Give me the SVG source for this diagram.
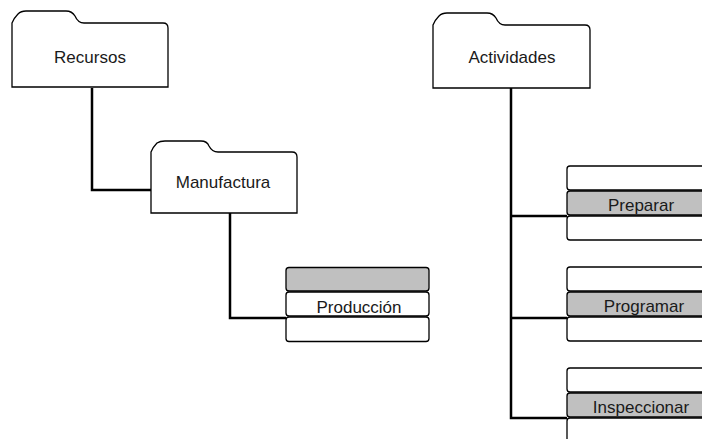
<svg xmlns="http://www.w3.org/2000/svg" width="702" height="439" viewBox="0 0 702 439">
  <style>
    .folder { fill: #ffffff; stroke: #000000; stroke-width: 1.3; }
    .row { fill: #ffffff; stroke: #000000; stroke-width: 1.3; }
    .row.sel { fill: #c0c0c0; }
    .wire { fill: none; stroke: #000000; stroke-width: 2.5; }
    .lbl { font-family: "Liberation Sans", Arial, sans-serif; font-size: 17px; fill: #1a1a1a; text-anchor: middle; }
  </style>

  <!-- connectors -->
  <g id="connectors">
    <path class="wire" d="M92,88 V190 H151"/>
    <path class="wire" d="M230,213 V318 H286"/>
    <path class="wire" d="M511,88 V418 H567"/>
    <path class="wire" d="M511,216 H567"/>
    <path class="wire" d="M511,318 H567"/>
  </g>

  <!-- folder: Recursos -->
  <g id="recursos">
    <path class="folder" d="M12,87 V23 Q14,18 18,14 Q21,11 26,11 H66 Q72,11 75,16 Q78,23 84,23 H163 Q168,23 168,28 V87 Z"/>
    <text class="lbl" x="90" y="63">Recursos</text>
  </g>

  <!-- folder: Manufactura -->
  <g id="manufactura">
    <path class="folder" d="M151,213 V152 Q153,147 157,143 Q160,141 165,141 H201 Q207,141 209,146 Q212,152 218,152 H292 Q297,152 297,157 V213 Z"/>
    <text class="lbl" x="223" y="188">Manufactura</text>
  </g>

  <!-- folder: Actividades -->
  <g id="actividades">
    <path class="folder" d="M433,88 V25 Q435,20 439,16 Q442,13 447,13 H487 Q493,13 496,18 Q499,25 505,25 H585 Q590,25 590,30 V88 Z"/>
    <text class="lbl" x="512" y="63">Actividades</text>
  </g>

  <!-- list: Producción -->
  <g id="produccion">
    <rect class="row sel" x="286" y="267.5" width="143" height="23.5" rx="3"/>
    <rect class="row" x="286" y="292" width="143" height="24" rx="3"/>
    <rect class="row" x="286" y="317" width="143" height="24.5" rx="3"/>
    <text class="lbl" x="359" y="313">Producción</text>
  </g>

  <!-- list: Preparar -->
  <g id="preparar">
    <rect class="row" x="567" y="166" width="150" height="24" rx="3"/>
    <rect class="row sel" x="567" y="191" width="150" height="24" rx="3"/>
    <rect class="row" x="567" y="216" width="150" height="24" rx="3"/>
    <text class="lbl" x="641" y="211">Preparar</text>
  </g>

  <!-- list: Programar -->
  <g id="programar">
    <rect class="row" x="567" y="267" width="150" height="24" rx="3"/>
    <rect class="row sel" x="567" y="292" width="150" height="24" rx="3"/>
    <rect class="row" x="567" y="317" width="150" height="24" rx="3"/>
    <text class="lbl" x="644" y="312">Programar</text>
  </g>

  <!-- list: Inspeccionar -->
  <g id="inspeccionar">
    <rect class="row" x="567" y="368" width="150" height="24" rx="3"/>
    <rect class="row sel" x="567" y="393" width="150" height="24" rx="3"/>
    <rect class="row" x="567" y="418" width="150" height="24" rx="3"/>
    <text class="lbl" x="641" y="413">Inspeccionar</text>
  </g>
</svg>
